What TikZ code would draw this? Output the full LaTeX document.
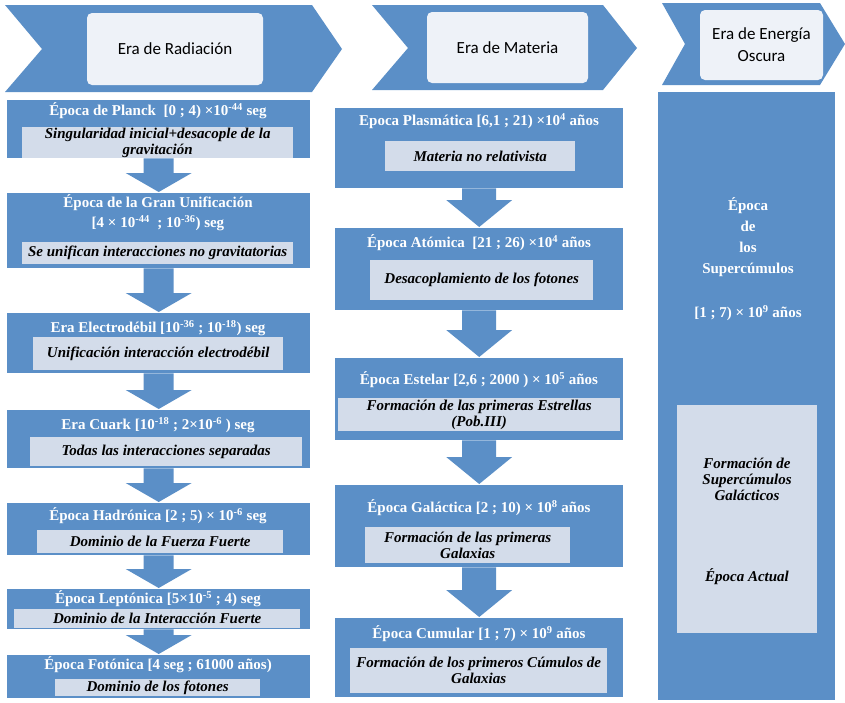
\documentclass[tikz,border=0pt]{standalone}
\usepackage{fontspec}
\setmainfont{Liberation Serif}
\newfontfamily\tabfont{Carlito}
\usetikzlibrary{calc}
\definecolor{eraBlue}{HTML}{5B8FC7}
\definecolor{descFill}{HTML}{D3DCEA}
\definecolor{tabFill}{HTML}{EEF2F8}
\tikzset{
        chevron/.style={fill=eraBlue}, % the three era banners
        tab/.style={fill=tabFill, rounded corners=5pt, align=center, inner sep=0pt,
                font=\tabfont\fontsize{17}{22}\selectfont},
        epoch/.style={fill=eraBlue, anchor=north west, inner sep=0pt}, % blue epoch boxes
        title/.style={text=white, align=center, font=\bfseries\fontsize{15}{20}\selectfont},
        desc/.style={fill=descFill, anchor=north west, inner sep=0pt, align=center,
                font=\bfseries\itshape\fontsize{15}{16}\selectfont},
}
% block arrow: from, to, half shaft, half head, head length
\newcommand{\blockdown}[5]{%
  \fill[eraBlue] let \p1=(#1.south), \p2=(#2.north) in
    (\x1-#3,\y1) -- (\x1+#3,\y1) -- (\x1+#3,\y2+#5) -- (\x1+#4,\y2+#5)
    -- (\x1,\y2+1pt) -- (\x1-#4,\y2+#5) -- (\x1-#3,\y2+#5) -- cycle;}

\begin{document}
\begin{tikzpicture}[x=1pt,y=-1pt]
\useasboundingbox (0,0) rectangle (845,702);

% era banners
\fill[chevron] (5,5) -- (312,5) -- (342,49) -- (312,92) -- (5,92) -- (42,49) -- cycle;
\fill[chevron] (372,5) -- (603,5) -- (637,48) -- (603,90) -- (372,90) -- (408,48) -- cycle;
\fill[chevron] (662,3) -- (820,3) -- (845,44) -- (820,85) -- (662,85) -- (685,44) -- cycle;
\node[tab, minimum width=176pt, minimum height=72pt] (radiacion) at (175,49) {Era de Radiación};
\node[tab, minimum width=161pt, minimum height=71pt] (materia) at (507.5,47.5) {Era de Materia};
\node[tab, minimum width=123pt, minimum height=70pt] (oscura) at (761.5,45) {Era de Energía\\Oscura};

% radiation era
\node[epoch, minimum width=303pt, minimum height=58pt] (planck) at (7,100) {};
\node[epoch, minimum width=303pt, minimum height=75pt] (unif) at (7,193) {};
\node[epoch, minimum width=303pt, minimum height=60pt] (electro) at (7,313) {};
\node[epoch, minimum width=303pt, minimum height=58pt] (cuark) at (7,410) {};
\node[epoch, minimum width=303pt, minimum height=52pt] (hadron) at (7,503) {};
\node[epoch, minimum width=303pt, minimum height=40pt] (lepton) at (7,589) {};
\node[epoch, minimum width=303pt, minimum height=43pt] (foton) at (7,655) {};

\foreach \a/\b in {planck/unif, unif/electro, electro/cuark, cuark/hadron, hadron/lepton, lepton/foton}
  \blockdown{\a}{\b}{15pt}{33pt}{20pt};

\node[title] (planckT) at (158,111) {Época de Planck\ \ [0 ; 4) ×10\textsuperscript{-44} seg};
\node[title] (unifT) at (158,213) {Época de la Gran Unificación\\{}[4 × 10\textsuperscript{-44}\ \ ; 10\textsuperscript{-36}) seg};
\node[title] (electroT) at (158,328) {Era Electrodébil [10\textsuperscript{-36} ; 10\textsuperscript{-18}) seg};
\node[title] (cuarkT) at (158,425) {Era Cuark [10\textsuperscript{-18} ; 2×10\textsuperscript{-6} ) seg};
\node[title] (hadronT) at (158,516) {Época Hadrónica [2 ; 5) × 10\textsuperscript{-6} seg};
\node[title] (leptonT) at (158,599) {Época Leptónica [5×10\textsuperscript{-5} ; 4) seg};
\node[title] (fotonT) at (158,665) {Época Fotónica [4 seg ; 61000 años)};

\node[desc, minimum width=271pt, minimum height=31pt] (planckD) at (22,127) {Singularidad inicial+desacople de la\\gravitación};
\node[desc, minimum width=271pt, minimum height=22pt] (unifD) at (22,242) {Se unifican interacciones no gravitatorias};
\node[desc, minimum width=250pt, minimum height=33pt] (electroD) at (33,337) {Unificación interacción electrodébil};
\node[desc, minimum width=272pt, minimum height=29pt] (cuarkD) at (30,437) {Todas las interacciones separadas};
\node[desc, minimum width=246pt, minimum height=23pt] (hadronD) at (37,530) {Dominio de la Fuerza Fuerte};
\node[desc, minimum width=286pt, minimum height=19pt] (leptonD) at (14,609) {Dominio de la Interacción Fuerte};
\node[desc, minimum width=205pt, minimum height=17pt] (fotonD) at (55,679) {Dominio de los fotones};

% matter era
\node[epoch, minimum width=288pt, minimum height=80pt] (plasma) at (335,108) {};
\node[epoch, minimum width=288pt, minimum height=82pt] (atomica) at (335,228) {};
\node[epoch, minimum width=288pt, minimum height=82pt] (estelar) at (335,358) {};
\node[epoch, minimum width=288pt, minimum height=82pt] (galactica) at (335,485) {};
\node[epoch, minimum width=288pt, minimum height=79pt] (cumular) at (335,618) {};

\foreach \a/\b in {plasma/atomica, atomica/estelar, estelar/galactica, galactica/cumular}
  \blockdown{\a}{\b}{17pt}{33pt}{28pt};

\node[title] (plasmaT) at (479,121) {Epoca Plasmática [6,1 ; 21) ×10\textsuperscript{4} años};
\node[title] (atomicaT) at (479,243) {Época Atómica\ \ [21 ; 26) ×10\textsuperscript{4} años};
\node[title] (estelarT) at (479,380) {Época Estelar [2,6 ; 2000 ) × 10\textsuperscript{5} años};
\node[title] (galacticaT) at (479,508) {Época Galáctica [2 ; 10) × 10\textsuperscript{8} años};
\node[title] (cumularT) at (479,634) {Época Cumular [1 ; 7) × 10\textsuperscript{9} años};

\node[desc, minimum width=190pt, minimum height=30pt] (plasmaD) at (385,141) {Materia no relativista};
\node[desc, minimum width=223pt, minimum height=40pt] (atomicaD) at (370,260) {Desacoplamiento de los fotones};
\node[desc, minimum width=282pt, minimum height=33pt] (estelarD) at (338,398) {Formación de las primeras Estrellas\\(Pob.III)};
\node[desc, minimum width=205pt, minimum height=36pt] (galacticaD) at (365,527) {Formación de las primeras\\Galaxias};
\node[desc, minimum width=257pt, minimum height=45pt] (cumularD) at (350,648) {Formación de los primeros Cúmulos de\\Galaxias};

% dark energy era
\node[epoch, minimum width=177pt, minimum height=608pt] (super) at (658,92) {};
\node[title, font=\bfseries\fontsize{15}{21}\selectfont] (superT) at (748,237) {Época\\de\\los\\Supercúmulos};
\node[title] (superF) at (748,313) {[1 ; 7) × 10\textsuperscript{9} años};
\node[desc, minimum width=140pt, minimum height=228pt] (actual) at (677,405) {};
\node[desc, anchor=center, fill=none] (actualA) at (747,479) {Formación de\\Supercúmulos\\Galácticos};
\node[desc, anchor=center, fill=none] (actualB) at (747,577) {Época Actual};
\end{tikzpicture}
\end{document}
